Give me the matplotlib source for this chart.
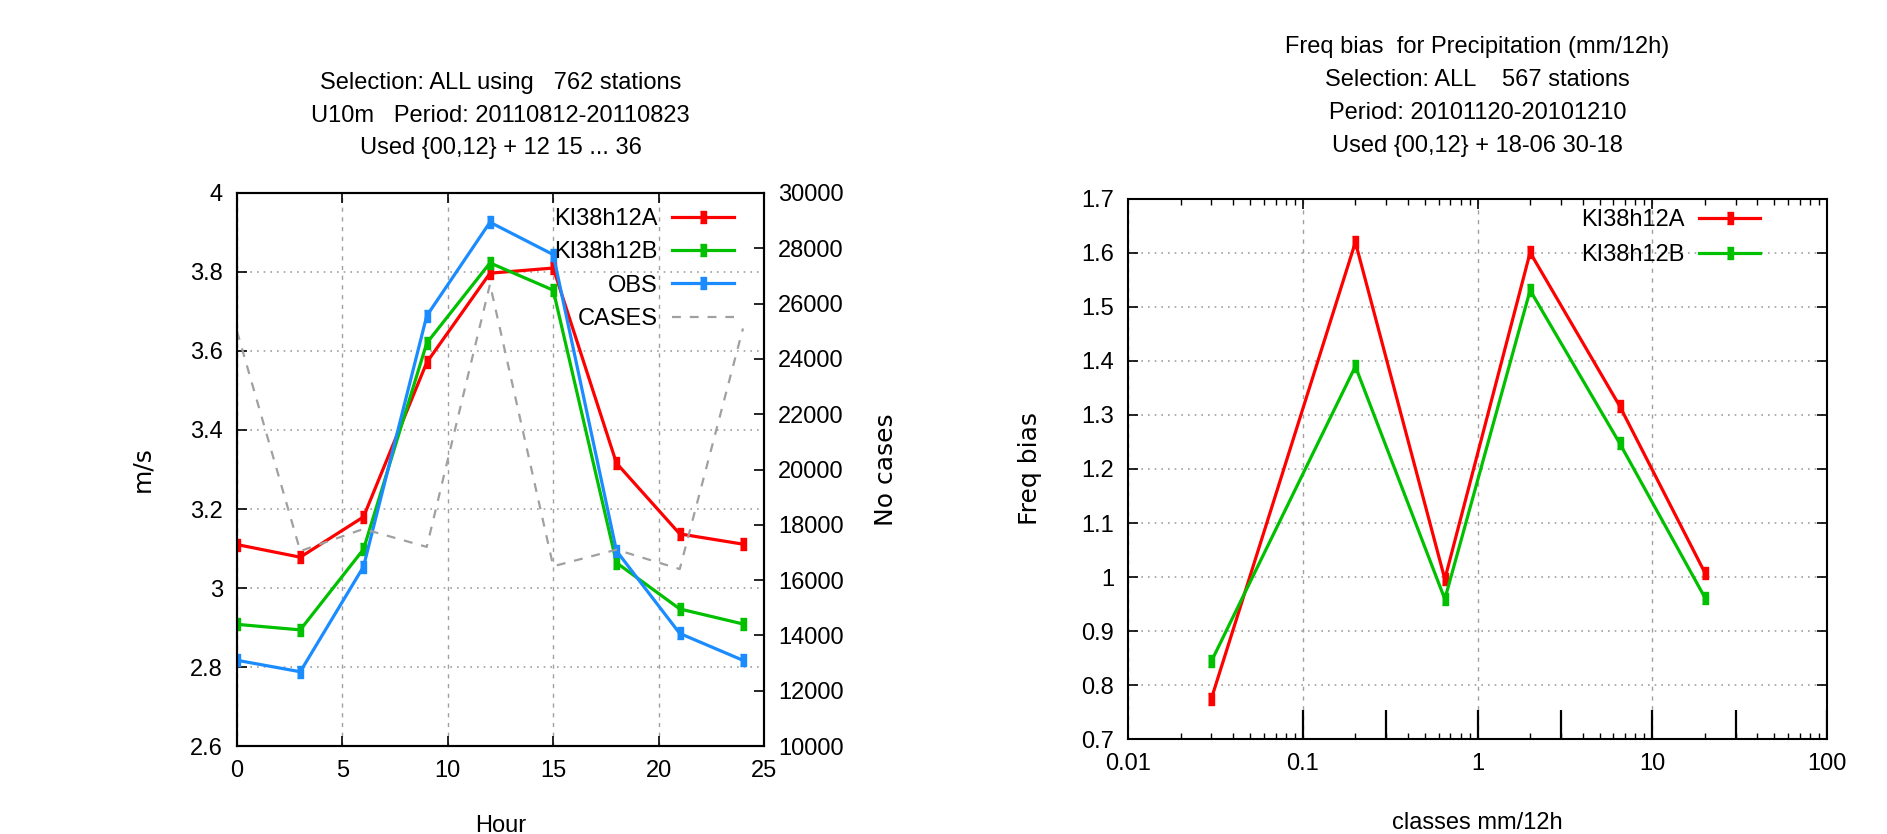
import matplotlib
matplotlib.use("Agg")
import matplotlib.pyplot as plt
from matplotlib.ticker import FuncFormatter, MultipleLocator, LogLocator, NullFormatter

plt.rcParams['font.family'] = ['Liberation Sans', 'DejaVu Sans']

# left panel: diurnal cycle of 10m wind
hours = [0, 3, 6, 9, 12, 15, 18, 21, 24]
exp_a = [3.11, 3.078, 3.18, 3.571, 3.797, 3.81, 3.316, 3.137, 3.111]
exp_b = [2.908, 2.894, 3.098, 3.62, 3.823, 3.754, 3.064, 2.947, 2.909]
obs = [2.817, 2.788, 3.054, 3.689, 3.926, 3.844, 3.094, 2.885, 2.817]
cases = [25000, 17050, 17850, 17200, 26700, 16500, 17100, 16400, 25100]

# right panel: frequency bias per precipitation class
classes = [0.03, 0.2, 0.65, 2, 6.5, 20]
bias_a = [0.775, 1.62, 0.996, 1.601, 1.317, 1.008]
bias_b = [0.844, 1.39, 0.959, 1.531, 1.248, 0.962]
class_edges = [0.1, 0.3, 1, 3, 10, 30, 100]

left_title = ("Selection: ALL using   762 stations\n"
              "U10m   Period: 20110812-20110823\n"
              "Used {00,12} + 12 15 ... 36")
right_title = ("Freq bias  for Precipitation (mm/12h)\n"
               "Selection: ALL    567 stations\n"
               "Period: 20101120-20101210\n"
               "Used {00,12} + 18-06 30-18")

RED = '#ff0000'
GREEN = '#00c000'
BLUE = '#1a8cff'
GRID = '#a0a0a0'
FS = 17
LABEL_FONT = dict(fontsize=18, family='DejaVu Sans')
gfmt = FuncFormatter(lambda v, p: '%g' % v)
bar_marker = [(-0.5, -1), (0.5, -1), (0.5, 1), (-0.5, 1)]
line_kw = dict(lw=2.3, marker=bar_marker, ms=9)

fig = plt.figure(figsize=(18.87, 8.34), dpi=100)

# ---- left panel
ax = fig.add_axes([0.1256, 0.1055, 0.2793, 0.6631])
axr = ax.twinx()

ax.plot(hours, exp_a, color=RED, label='KI38h12A', **line_kw)
ax.plot(hours, exp_b, color=GREEN, label='KI38h12B', **line_kw)
ax.plot(hours, obs, color=BLUE, label='OBS', **line_kw)
axr.plot(hours, cases, color=GRID, ls=(0, (4, 4)), lw=1.6, label='CASES')

ax.set_xlim(0, 25)
ax.set_ylim(2.6, 4)
axr.set_ylim(10000, 30000)
ax.xaxis.set_major_locator(MultipleLocator(5))
ax.yaxis.set_major_locator(MultipleLocator(0.2))
axr.yaxis.set_major_locator(MultipleLocator(2000))
ax.xaxis.set_major_formatter(gfmt)
ax.yaxis.set_major_formatter(gfmt)
ax.grid(True, axis='x', color=GRID, ls=(0, (3, 4)), lw=1)
ax.grid(True, axis='y', color=GRID, ls=(0, (1, 3)), lw=1.2)
ax.tick_params(direction='in', labelsize=FS, length=7, width=1.2, top=True, pad=10)
axr.tick_params(direction='in', labelsize=FS, length=7, width=1.2, pad=10)
ax.set_xlabel('Hour', fontsize=FS, labelpad=24)
ax.set_ylabel('m/s', labelpad=26, **LABEL_FONT)
axr.set_ylabel('No cases', labelpad=22, **LABEL_FONT)
ax.set_title(left_title, fontsize=FS, linespacing=1.62, pad=28)
for a in (ax, axr):
    for s in a.spines.values():
        s.set_linewidth(1.5)

handles = ax.get_lines() + axr.get_lines()
leg = axr.legend(handles=handles, loc='upper right', bbox_to_anchor=(0.96, 0.99),
                 frameon=False, markerfirst=False, fontsize=FS, handlelength=2.6,
                 handletextpad=0.6, labelspacing=0.48, borderaxespad=0)
for col in leg._legend_handle_box.get_children():
    col.align = 'right'

# ---- right panel
bx = fig.add_axes([0.5978, 0.1139, 0.3704, 0.6475])
bx.plot(classes, bias_a, color=RED, label='KI38h12A', **line_kw)
bx.plot(classes, bias_b, color=GREEN, label='KI38h12B', **line_kw)
bx.vlines(class_edges, 0.7, 0.753, color='black', lw=1.6)

bx.set_xscale('log')
bx.set_xlim(0.01, 100)
bx.set_ylim(0.7, 1.7)
bx.yaxis.set_major_locator(MultipleLocator(0.1))
bx.yaxis.set_major_formatter(gfmt)
bx.xaxis.set_major_locator(LogLocator(base=10, numticks=10))
bx.xaxis.set_minor_locator(LogLocator(base=10, subs=range(2, 10), numticks=10))
bx.xaxis.set_minor_formatter(NullFormatter())
bx.xaxis.set_major_formatter(gfmt)
bx.grid(True, axis='x', which='major', color=GRID, ls=(0, (3, 4)), lw=1)
bx.grid(True, axis='y', color=GRID, ls=(0, (1, 3)), lw=1.2)
bx.tick_params(which='major', direction='in', labelsize=FS, length=7, width=1.2,
               top=True, right=True, pad=10)
bx.tick_params(which='minor', direction='in', length=4, width=1, top=True)
bx.set_xlabel('classes mm/12h', fontsize=FS, labelpad=27)
bx.set_ylabel('Freq bias', labelpad=28, **LABEL_FONT)
bx.set_title(right_title, fontsize=FS, linespacing=1.65, pad=34)
for s in bx.spines.values():
    s.set_linewidth(1.5)

leg2 = bx.legend(loc='upper right', bbox_to_anchor=(0.918, 0.999), frameon=False,
                 markerfirst=False, fontsize=FS, handlelength=2.6,
                 handletextpad=0.6, labelspacing=0.55, borderaxespad=0)
for col in leg2._legend_handle_box.get_children():
    col.align = 'right'

fig.savefig('out.png', dpi=100)
